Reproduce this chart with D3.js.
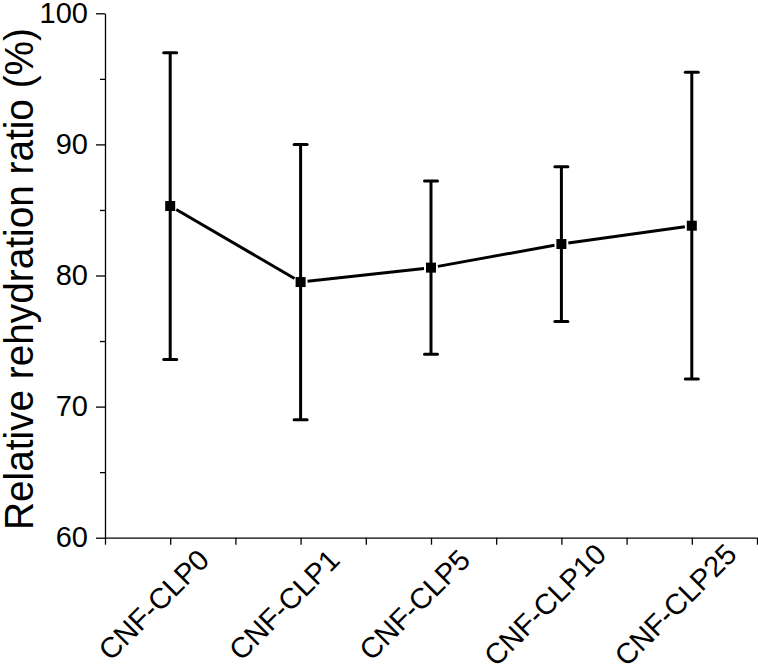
<!DOCTYPE html>
<html>
<head>
<meta charset="utf-8">
<script src="https://cdn.jsdelivr.net/npm/d3@7"></script>
<style>
  body { margin: 0; background: #fff; }
  svg { display: block; font-family: Arial, "Liberation Sans", sans-serif; }
  .axis path, .axis line { stroke: #000; stroke-width: 1.3; }
  .axis text { fill: #000; font-size: 29px; font-family: Arial, "Liberation Sans", sans-serif; }
</style>
</head>
<body>
<div class="chart"></div>
<script>
const WIDTH = 758;
const HEIGHT = 672;
const LEFT = 105;
const RIGHT = 757;
const TOP = 13.3;
const BOTTOM = 537.7;

// data
var categories = ['CNF-CLP0', 'CNF-CLP1', 'CNF-CLP5', 'CNF-CLP10', 'CNF-CLP25'];
var ratio = [85.3, 79.5, 80.6, 82.4, 83.8];
var sd = [11.7, 10.5, 6.6, 5.9, 11.7];
var yTicks = [60, 70, 80, 90, 100];
var yMinorTicks = [65, 75, 85, 95];

var points = categories.map(function (c, i) {
    return { name: c, pos: i + 1, value: ratio[i], err: sd[i] };
});

var x = d3.scaleLinear().domain([0.5, 5.5]).range([LEFT, RIGHT]);
var y = d3.scaleLinear().domain([60, 100]).range([BOTTOM, TOP]);

var svg = d3.select('.chart').append('svg')
    .attr('width', WIDTH)
    .attr('height', HEIGHT);

// y axis
var yAxis = d3.axisLeft(y).tickValues(yTicks).tickSize(9).tickPadding(8).tickSizeOuter(0);
svg.append('g').attr('class', 'axis')
    .attr('transform', 'translate(' + LEFT + ',0)')
    .call(yAxis);
svg.append('g').attr('class', 'axis')
    .attr('transform', 'translate(' + LEFT + ',0)')
    .call(d3.axisLeft(y).tickValues(yMinorTicks).tickSize(5).tickFormat(''))
    .select('.domain').remove();

// x axis: minor ticks, then labelled ticks
svg.append('g').attr('class', 'axis')
    .attr('transform', 'translate(0,' + BOTTOM + ')')
    .call(d3.axisBottom(x).tickValues(d3.range(0.5, 5.6, 1)).tickSize(7).tickSizeOuter(0).tickFormat(''));
var xAxisG = svg.append('g').attr('class', 'axis')
    .attr('transform', 'translate(0,' + BOTTOM + ')')
    .call(d3.axisBottom(x).tickValues(points.map(function (p) { return p.pos; }))
        .tickSize(7)
        .tickFormat(function (d) { return categories[d - 1]; }));
xAxisG.select('.domain').remove();
xAxisG.selectAll('text')
    .attr('x', 0)
    .attr('y', 0)
    .attr('dy', '0.35em')
    .attr('transform', 'translate(-17,67) rotate(-45)')
    .style('text-anchor', 'middle');

// axis title
svg.append('text')
    .attr('transform', 'translate(33,279) rotate(-90)')
    .attr('text-anchor', 'middle')
    .attr('textLength', 502)
    .attr('lengthAdjust', 'spacingAndGlyphs')
    .style('font-size', '40px')
    .text('Relative rehydration ratio (%)');

var plot = svg.append('g');

// error bars
var bars = plot.selectAll('.err').data(points).enter().append('g').attr('class', 'err')
    .attr('stroke', '#000')
    .attr('stroke-width', 3);
bars.append('line')
    .attr('x1', function (d) { return x(d.pos); })
    .attr('x2', function (d) { return x(d.pos); })
    .attr('y1', function (d) { return y(d.value - d.err); })
    .attr('y2', function (d) { return y(d.value + d.err); });
bars.append('line')
    .attr('x1', function (d) { return x(d.pos) - 6.5; })
    .attr('x2', function (d) { return x(d.pos) + 6.5; })
    .attr('y1', function (d) { return y(d.value + d.err); })
    .attr('y2', function (d) { return y(d.value + d.err); })
    .attr('stroke-linecap', 'round');
bars.append('line')
    .attr('x1', function (d) { return x(d.pos) - 6.5; })
    .attr('x2', function (d) { return x(d.pos) + 6.5; })
    .attr('y1', function (d) { return y(d.value - d.err); })
    .attr('y2', function (d) { return y(d.value - d.err); })
    .attr('stroke-linecap', 'round');

// connecting line, with small gaps at the markers
var GAP = 7;
plot.selectAll('.seg').data(d3.pairs(points)).enter().append('line')
    .attr('class', 'seg')
    .attr('stroke', '#000')
    .attr('stroke-width', 3)
    .each(function (pair) {
        var x1 = x(pair[0].pos), y1 = y(pair[0].value);
        var x2 = x(pair[1].pos), y2 = y(pair[1].value);
        var len = Math.hypot(x2 - x1, y2 - y1);
        var ux = (x2 - x1) / len, uy = (y2 - y1) / len;
        d3.select(this)
            .attr('x1', x1 + ux * GAP).attr('y1', y1 + uy * GAP)
            .attr('x2', x2 - ux * GAP).attr('y2', y2 - uy * GAP);
    });

// square markers
plot.selectAll('.pt').data(points).enter().append('rect')
    .attr('class', 'pt')
    .attr('x', function (d) { return x(d.pos) - 5; })
    .attr('y', function (d) { return y(d.value) - 5; })
    .attr('width', 10)
    .attr('height', 10)
    .attr('fill', '#000');
</script>
</body>
</html>
